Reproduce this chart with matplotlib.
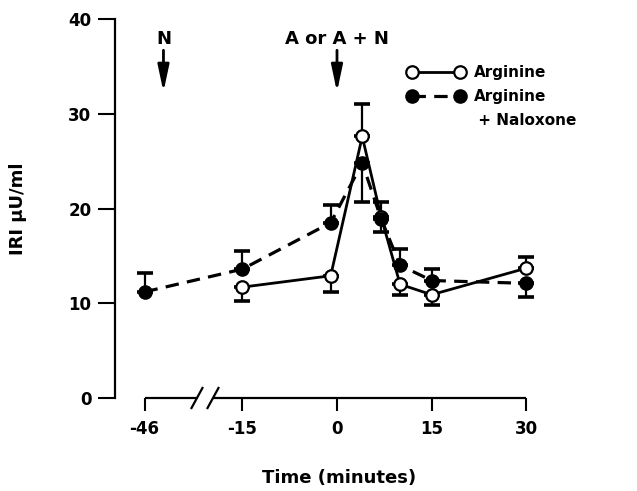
import numpy as np
import matplotlib
matplotlib.use("Agg")
import matplotlib.pyplot as plt
from matplotlib.lines import Line2D

# ---------------- data ----------------
# Arginine alone (open circles, solid line)
arg_time = [-15, -1, 4, 7, 10, 15, 30]
arg_iri = [11.7, 12.9, 27.6, 19.1, 12.0, 10.9, 13.7]
arg_err_low = [1.5, 1.7, 0.0, 1.6, 1.1, 1.1, 0.0]
arg_err_high = [0.0, 0.0, 3.4, 0.0, 0.0, 0.0, 1.2]

# Arginine + Naloxone (filled circles, dashed line)
nal_time = [-46, -15, -1, 4, 7, 10, 15, 30]
nal_iri = [11.2, 13.6, 18.5, 24.8, 18.9, 14.0, 12.4, 12.1]
nal_err_low = [0.0, 0.0, 0.0, 4.1, 0.0, 0.0, 0.0, 1.4]
nal_err_high = [2.0, 1.9, 1.9, 0.0, 1.8, 1.7, 1.2, 0.0]

x_ticks = [-46, -15, 0, 15, 30]
x_tick_labels = ["-46", "-15", "0", "15", "30"]
y_ticks = [0, 10, 20, 30, 40]
y_tick_labels = ["0", "10", "20", "30", "40"]

arrow_times = [-40, 0]
arrow_labels = ["N", "A or A + N"]

legend_labels = ["Arginine", "Arginine", " + Naloxone"]

# ---------------- broken time axis via a function scale ----------------
BREAK_LO, BREAK_HI, SQUEEZE = -46.0, -15.0, 0.5
T_LO = BREAK_HI + (BREAK_LO - BREAK_HI) * SQUEEZE


def fwd(x):
    x = np.asarray(x, dtype=float)
    return np.where(x >= BREAK_HI, x,
                    np.where(x >= BREAK_LO, BREAK_HI + (x - BREAK_HI) * SQUEEZE,
                             x - BREAK_LO + T_LO))


def inv(t):
    t = np.asarray(t, dtype=float)
    return np.where(t >= BREAK_HI, t,
                    np.where(t >= T_LO, BREAK_HI + (t - BREAK_HI) / SQUEEZE,
                             t - T_LO + BREAK_LO))


plt.rcParams["font.family"] = ["DejaVu Sans"]
plt.rcParams["font.weight"] = "bold"

fig = plt.figure(figsize=(6.37, 4.91), dpi=100)
ax = fig.add_axes([115 / 637, 1 - 398 / 491, 445 / 637, 379 / 491])
ax.set_xscale("function", functions=(fwd, inv))
ax.set_xlim(float(inv(-35.18)), 35.34)
ax.set_ylim(0, 40)

# lines + markers
ax.plot(arg_time, arg_iri, color="black", lw=2.0, marker="o", ms=9,
        mfc="white", mec="black", mew=1.6, zorder=3)
ax.plot(nal_time, nal_iri, color="black", lw=2.3, ls=(0, (4.2, 2.6)),
        marker="o", ms=9.5, mfc="black", mec="black", zorder=4)


def one_sided(times, vals, lows, highs):
    for errs, lower in ((lows, True), (highs, False)):
        sel = [i for i, e in enumerate(errs) if e > 0]
        if not sel:
            continue
        xs = [times[i] for i in sel]
        ys = [vals[i] for i in sel]
        es = [errs[i] for i in sel]
        zeros = [0.0] * len(sel)
        yerr = [es, zeros] if lower else [zeros, es]
        ax.errorbar(xs, ys, yerr=yerr, fmt="none", ecolor="black",
                    elinewidth=1.6, capsize=5.5, capthick=2.6, zorder=2)


one_sided(arg_time, arg_iri, arg_err_low, arg_err_high)
one_sided(nal_time, nal_iri, nal_err_low, nal_err_high)

# axes styling
for s in ("top", "right", "bottom"):
    ax.spines[s].set_visible(False)
ax.spines["left"].set_linewidth(1.6)
ax.set_xticks(x_ticks)
ax.set_xticklabels(x_tick_labels)
ax.set_yticks(y_ticks)
ax.set_yticklabels(y_tick_labels)
ax.tick_params(axis="y", direction="out", length=12, width=1.5, pad=5,
               labelsize=12)
ax.tick_params(axis="x", direction="out", length=9.5, width=1.5, pad=6,
               labelsize=12)
ax.xaxis.set_minor_locator(matplotlib.ticker.NullLocator())

# bottom axis line with break marks
gap_t = (-22.19, -19.65)
gap_x = [float(inv(g)) for g in gap_t]
ax.plot([x_ticks[0], gap_x[0]], [0, 0], color="black", lw=1.6,
        clip_on=False, zorder=5, solid_capstyle="butt")
ax.plot([gap_x[1], x_ticks[-1]], [0, 0], color="black", lw=1.6,
        clip_on=False, zorder=5, solid_capstyle="butt")
for tc in gap_t:
    xs = [float(inv(tc - 0.87)), float(inv(tc + 0.87))]
    ax.plot(xs, [-1.06, 1.06], color="black", lw=1.6, clip_on=False, zorder=5)

# arrows with labels
for xt, lab in zip(arrow_times, arrow_labels):
    ax.annotate("", xy=(xt, 32.3), xytext=(xt, 36.7),
                arrowprops=dict(arrowstyle="-|>,head_length=1.6,head_width=0.34",
                                color="black", lw=2.0, mutation_scale=10,
                                shrinkA=0, shrinkB=0))
    ax.text(xt, 37.9, lab, ha="center", va="center", fontsize=13,
            fontweight="bold")

ax.set_xlabel("Time (minutes)", fontsize=13, fontweight="bold")
ax.xaxis.set_label_coords(0.503, -0.188)
ax.set_ylabel("IRI \u03bcU/ml", fontsize=13, fontweight="bold")
ax.yaxis.set_label_coords(-0.198, 0.5)

# legend
h1 = Line2D([], [], color="black", lw=2.0, marker="o", ms=9, mfc="white",
            mec="black", mew=1.6)
h2 = Line2D([], [], color="black", lw=2.3, ls=(0, (4.2, 2.6)), marker="o",
            ms=9.5, mfc="black", mec="black")
h3 = Line2D([], [], ls="none")
leg = ax.legend([h1, h2, h3], legend_labels, loc="upper left",
                bbox_to_anchor=(407 / 637, 1 - 65 / 491),
                bbox_transform=fig.transFigure, frameon=False, numpoints=2,
                handlelength=3.8, handletextpad=0.55, borderpad=0,
                borderaxespad=0, labelspacing=0.6,
                prop={"size": 11, "weight": "bold"})

fig.savefig("out.png", dpi=100)
